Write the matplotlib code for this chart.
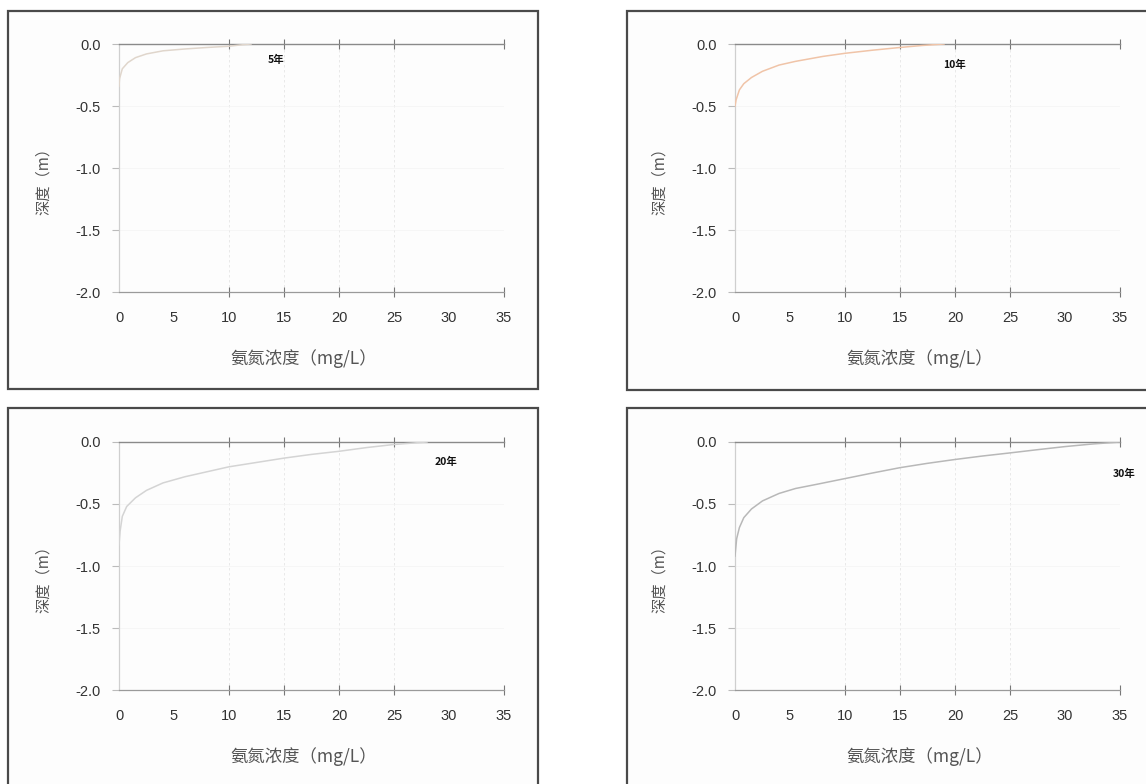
import matplotlib
matplotlib.use("Agg")
import matplotlib.pyplot as plt
from matplotlib.patches import Rectangle

plt.rcParams['font.family'] = ['Liberation Sans', 'Noto Sans CJK SC', 'DejaVu Sans']

# ---- data ----
years_labels = ["5年", "10年", "20年", "30年"]

x5 = [0, 0.05, 0.3, 0.8, 1.5, 2.5, 4, 6, 8, 10, 11, 12]
y5 = [-0.34, -0.28, -0.2, -0.15, -0.11, -0.08, -0.055, -0.04, -0.028, -0.018, -0.008, 0]

x10 = [0, 0.1, 0.4, 0.8, 1.5, 2.5, 4, 5.5, 8, 10, 12.5, 15, 17, 19]
y10 = [-0.5, -0.45, -0.37, -0.32, -0.27, -0.22, -0.17, -0.14, -0.1, -0.075, -0.05, -0.028, -0.012, 0]

x20 = [0, 0.1, 0.3, 0.7, 1.5, 2.5, 4, 6, 8, 10, 12.5, 15, 17.5, 20, 22.5, 25, 28]
y20 = [-0.83, -0.72, -0.6, -0.52, -0.45, -0.39, -0.33, -0.28, -0.24, -0.2, -0.165, -0.13, -0.1, -0.075, -0.045, -0.02, 0]

x30 = [0, 0.15, 0.4, 0.8, 1.5, 2.5, 4, 5.5, 7.5, 10, 12.5, 15, 17.5, 20, 22.5, 25, 27.5, 30, 32.5, 35]
y30 = [-0.92, -0.78, -0.69, -0.61, -0.54, -0.475, -0.415, -0.375, -0.34, -0.295, -0.25, -0.207, -0.172, -0.141, -0.113, -0.088, -0.062, -0.037, -0.016, 0]

label_pos_x = [14.3, 20.0, 29.7, 35.4]
label_pos_y = [-0.125, -0.17, -0.16, -0.26]

xticks = [0, 5, 10, 15, 20, 25, 30, 35]
xtick_marks = [10, 15, 20, 25, 35]
yticks = [0.0, -0.5, -1.0, -1.5, -2.0]
ytick_labels = ["0.0", "-0.5", "-1.0", "-1.5", "-2.0"]
xlabel = "氨氮浓度（mg/L）"
ylabel = "深度（m）"

series = [(x5, y5), (x10, y10), (x20, y20), (x30, y30)]
colors = ["#e0d6cc", "#f0c4a8", "#d4d4d4", "#b8b8b8"]

W, H = 1146, 784
fig = plt.figure(figsize=(W / 100, H / 100), dpi=100)
fig.patch.set_facecolor("white")

# panel frames (pixels: left, top, right, bottom)
frames = [(8, 11, 538, 389), (627, 11, 1150, 390), (8, 408, 538, 790), (627, 408, 1150, 790)]
# axes (pixels: x0, x35, ytop, ybottom)
axes_px = [(119, 504, 44, 292), (735, 1120, 44, 292), (119, 504, 442, 690), (735, 1120, 442, 690)]

cjk = ["Noto Sans CJK SC", "DejaVu Sans"]

for i in range(4):
    l, t, r, b = frames[i]
    fig.patches.append(Rectangle((l / W, 1 - b / H), (r - l) / W, (b - t) / H,
                                 transform=fig.transFigure, facecolor="#fdfdfd",
                                 edgecolor="#4a4a4a", linewidth=1.6, zorder=-10))
    x0, x1, yt, yb = axes_px[i]
    ax = fig.add_axes([x0 / W, 1 - yb / H, (x1 - x0) / W, (yb - yt) / H])
    ax.set_facecolor("none")
    xs, ys = series[i]
    ax.plot(xs, ys, color=colors[i], lw=1.1, zorder=3)
    ax.set_xlim(0, 35)
    ax.set_ylim(-2.0, 0.0)

    ax.set_xticks(xticks)
    ax.set_xticklabels([str(v) for v in xticks])
    ax.tick_params(axis="x", which="major", length=7, direction="inout", color="#777777",
                   width=0.8, top=True, bottom=True, pad=10, labelsize=10.5,
                   labelcolor="#333333")
    ax.grid(True, axis="x", which="major", color="#e6e6e6", linestyle=(0, (3, 3)), lw=0.6)
    ax.grid(True, axis="y", which="major", color="#f3f3f3", linestyle="-", lw=0.5)
    for loc, tick in zip(xticks, ax.xaxis.get_major_ticks()):
        if loc not in xtick_marks:
            tick.tick1line.set_visible(False)
            tick.tick2line.set_visible(False)
            tick.gridline.set_visible(False)

    ax.set_yticks(yticks)
    ax.set_yticklabels(ytick_labels)
    ax.tick_params(axis="y", which="major", length=5, direction="out", color="#bbbbbb",
                   width=0.8, pad=8, labelsize=10.5, labelcolor="#333333")

    ax.spines["right"].set_visible(False)
    ax.spines["top"].set_color("#8a8a8a")
    ax.spines["top"].set_linewidth(1.0)
    ax.spines["bottom"].set_color("#9a9a9a")
    ax.spines["bottom"].set_linewidth(0.9)
    ax.spines["left"].set_color("#cfcfcf")
    ax.spines["left"].set_linewidth(0.9)

    ax.set_xlabel(xlabel, family=cjk, fontsize=12.5, color="#555555")
    ax.xaxis.set_label_coords(0.48, -0.23)
    ax.text(-0.197, 0.46, ylabel, transform=ax.transAxes, rotation=90,
            family=cjk, fontsize=11, color="#555555", ha="center", va="center")
    ax.text(label_pos_x[i], label_pos_y[i], years_labels[i], fontsize=7.5,
            family=cjk, fontweight="bold", color="#111111",
            ha="center", va="center", clip_on=False)

fig.savefig("out.png", dpi=100, facecolor="white")
